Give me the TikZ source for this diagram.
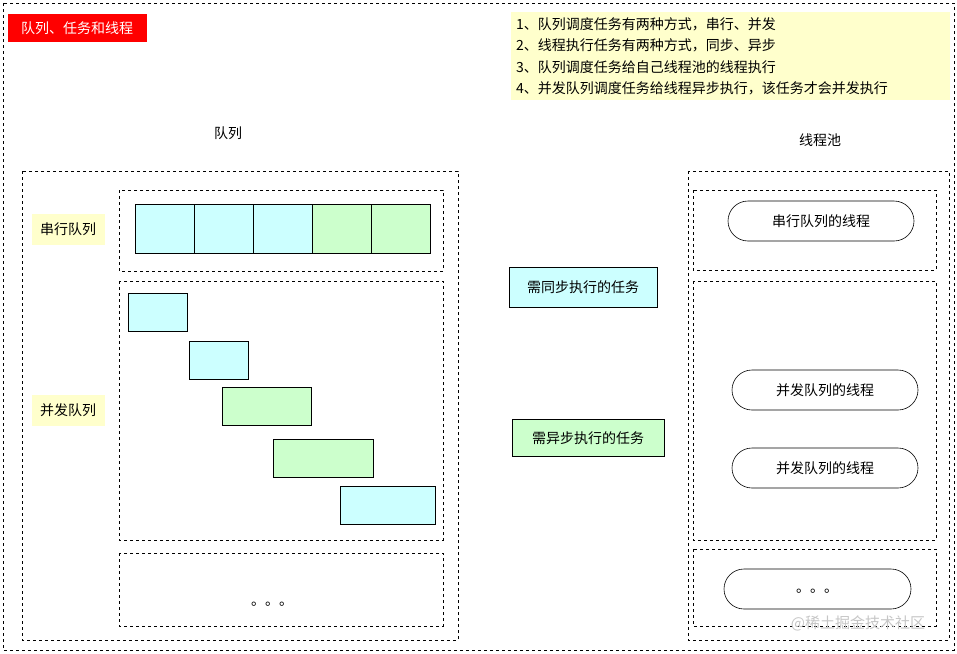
\documentclass[tikz,border=0pt]{standalone}
\usepackage{fontspec}
\setmainfont{Noto Sans CJK SC}
\definecolor{cc}{HTML}{CCFFFF}
\definecolor{gg}{HTML}{CCFFCC}
\definecolor{yy}{HTML}{FFFFCC}
\begin{document}
\begin{tikzpicture}[x=1pt,y=-1pt,font=\fontsize{14}{16}\selectfont,
  dbox/.style={draw,dashed,line width=0.5pt},
  cyanc/.style={draw,fill=cc,line width=0.6pt},
  greenc/.style={draw,fill=gg,line width=0.6pt},
  ylab/.style={fill=yy,minimum width=73pt,minimum height=31pt,inner sep=2pt},
  pill/.style={draw,rounded corners=20pt,fill=white,line width=0.6pt}]
\useasboundingbox (0,0) rectangle (957,653);
\fill[white] (0,0) rectangle (957,653);
\draw[dbox] (3,3) rectangle (954,650);
\node[fill=red,text=white,minimum width=139pt,minimum height=28pt,inner sep=2pt] (title) at (77,28) {队列、任务和线程};
\node[fill=yy,anchor=north west,align=left,text width=429pt,inner sep=5pt,font=\fontsize{14}{21.5}\selectfont] (note) at (511,12) {1、队列调度任务有两种方式，串行、并发\\2、线程执行任务有两种方式，同步、异步\\3、队列调度任务给自己线程池的线程执行\\4、并发队列调度任务给线程异步执行，该任务才会并发执行};
\node (ql) at (228,133) {队列};
\node (tl) at (820,140) {线程池};
\draw[dbox] (22,171) rectangle (458,640);
\draw[dbox] (119,190) rectangle (443,271);
\draw[dbox] (119,281) rectangle (443,540);
\draw[dbox] (119,553) rectangle (443,626);
\draw[cyanc] (135,204) rectangle (194,253);
\draw[cyanc] (194,204) rectangle (253,253);
\draw[cyanc] (253,204) rectangle (312,253);
\draw[greenc] (312,204) rectangle (371,253);
\draw[greenc] (371,204) rectangle (430,253);
\node[ylab] (sq) at (68,229) {串行队列};
\node[ylab] (cq) at (68,410) {并发队列};
\draw[cyanc] (128,293) rectangle (187,331);
\draw[cyanc] (189,341) rectangle (248,379);
\draw[greenc] (222,387) rectangle (311,425);
\draw[greenc] (273,439) rectangle (373,477);
\draw[cyanc] (340,486) rectangle (435,524);
\node (dots1) at (272,604) {。。。};
\node[cyanc,minimum width=148pt,minimum height=40pt] (sync) at (583,287) {需同步执行的任务};
\node[greenc,minimum width=152pt,minimum height=37pt] (async) at (588,438) {需异步执行的任务};
\draw[dbox] (688,171) rectangle (949,640);
\draw[dbox] (693,190) rectangle (936,270);
\draw[dbox] (693,281) rectangle (936,540);
\draw[dbox] (693,549) rectangle (936,626);
\draw[pill] (728,201) rectangle (914,241); \node (p1) at (821,221) {串行队列的线程};
\draw[pill] (732,370) rectangle (918,410); \node (p2) at (825,390) {并发队列的线程};
\draw[pill] (732,448) rectangle (918,488); \node (p3) at (825,468) {并发队列的线程};
\draw[pill] (724,569) rectangle (911,609); \node (p4) at (817,591) {。。。};
\node[text=gray!45,font=\fontsize{15}{16}\selectfont] (wm) at (858,623) {@稀土掘金技术社区};
\end{tikzpicture}
\end{document}
